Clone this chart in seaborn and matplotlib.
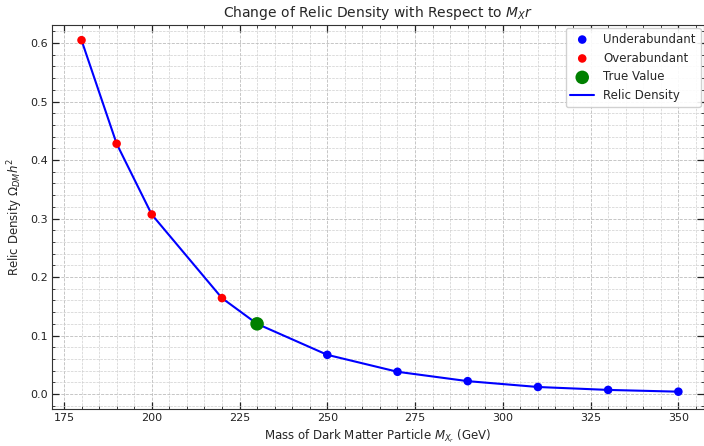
import matplotlib
matplotlib.use("Agg")
import matplotlib.pyplot as plt
import seaborn as sns
import pandas as pd
from matplotlib.ticker import MultipleLocator

mass = [180, 190, 200, 220, 230, 250, 270, 290, 310, 330, 350]
relic = [0.605, 0.428, 0.307, 0.164, 0.120, 0.067, 0.038, 0.022, 0.012, 0.007, 0.004]
under_mass = [250, 270, 290, 310, 330, 350]
under_relic = [0.067, 0.038, 0.022, 0.012, 0.007, 0.004]
over_mass = [180, 190, 200, 220]
over_relic = [0.605, 0.428, 0.307, 0.164]
true_mass = [230]
true_relic = [0.120]

sns.set_style("ticks")
plt.rcParams['font.family'] = ['DejaVu Sans']
plt.rcParams['font.size'] = 8.5

fig, ax = plt.subplots(figsize=(7.04, 4.46), dpi=100)

df = pd.DataFrame({"m": mass, "r": relic})
sns.scatterplot(x=under_mass, y=under_relic, color="blue", s=38, edgecolor="none",
                label="Underabundant", ax=ax, zorder=3)
sns.scatterplot(x=over_mass, y=over_relic, color="red", s=38, edgecolor="none",
                label="Overabundant", ax=ax, zorder=3)
sns.scatterplot(x=true_mass, y=true_relic, color="green", s=95, edgecolor="none",
                label="True Value", ax=ax, zorder=4)
sns.lineplot(data=df, x="m", y="r", color="blue", linewidth=1.5, label="Relic Density", ax=ax, zorder=2)

ax.set_title(r"Change of Relic Density with Respect to $M_X r$", fontsize=10, pad=6)
ax.set_xlabel(r"Mass of Dark Matter Particle $M_{X_r}$ (GeV)", fontsize=8.5, labelpad=3)
ax.set_ylabel(r"Relic Density $\Omega_{DM}h^2$", fontsize=8.5, labelpad=4)

ax.xaxis.set_major_locator(MultipleLocator(25))
ax.xaxis.set_minor_locator(MultipleLocator(5))
ax.yaxis.set_major_locator(MultipleLocator(0.1))
ax.yaxis.set_minor_locator(MultipleLocator(0.02))
ax.tick_params(which="both", direction="in", top=True, right=True, labelsize=8,
               colors="#222222", pad=3)
ax.tick_params(which="major", length=5, width=0.9)
ax.tick_params(which="minor", length=2.5, width=0.6)
ax.grid(True, which="major", linestyle="--", color="#bdbdbd", linewidth=0.6)
ax.grid(True, which="minor", linestyle="--", color="#cfcfcf", linewidth=0.5)
ax.set_xlim(171.6, 357.2)
ax.set_ylim(-0.0256, 0.631)

ax.legend(loc="upper right", fontsize=8.5, framealpha=0.9, borderaxespad=0.25)
for s in ax.spines.values():
    s.set_color("#333333")

fig.subplots_adjust(left=0.0739, right=0.9995, top=0.944, bottom=0.083)
fig.savefig("out.png", dpi=100)
